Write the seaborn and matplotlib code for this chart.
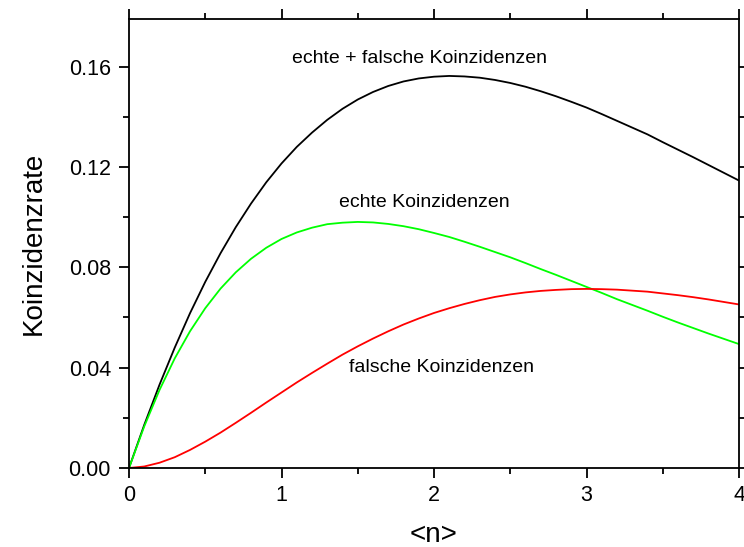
import matplotlib
matplotlib.use("Agg")
import matplotlib.pyplot as plt
from matplotlib.ticker import MultipleLocator, FormatStrFormatter
import seaborn as sns
import pandas as pd

# mean photon number <n>
n_vals = [0.0, 0.1, 0.2, 0.3, 0.4, 0.5, 0.6, 0.7, 0.8, 0.9,
          1.0, 1.1, 1.2, 1.3, 1.4, 1.5, 1.6, 1.7, 1.8, 1.9,
          2.0, 2.1, 2.2, 2.3, 2.4, 2.5, 2.6, 2.7, 2.8, 2.9,
          3.0, 3.1, 3.2, 3.3, 3.4, 3.5, 3.6, 3.7, 3.8, 3.9, 4.0]

# echte + falsche Koinzidenzen (black)
total_rate = [0.0, 0.0172, 0.0332, 0.0480, 0.0617, 0.0742, 0.0856, 0.0960, 0.1054, 0.1139,
              0.1214, 0.1280, 0.1337, 0.1388, 0.1432, 0.1469, 0.1499, 0.1523, 0.1541, 0.1553,
              0.1560, 0.1563, 0.1561, 0.1556, 0.1547, 0.1535, 0.1520, 0.1502, 0.1482, 0.1460,
              0.1437, 0.1411, 0.1384, 0.1357, 0.1330, 0.1299, 0.1269, 0.1239, 0.1208, 0.1177, 0.1146]

# echte Koinzidenzen (green)
true_rate = [0.0, 0.0166, 0.0311, 0.0437, 0.0545, 0.0637, 0.0715, 0.0780, 0.0834, 0.0878,
             0.0913, 0.0939, 0.0958, 0.0972, 0.0978, 0.0981, 0.0979, 0.0973, 0.0964, 0.0952,
             0.0937, 0.0921, 0.0902, 0.0882, 0.0861, 0.0840, 0.0817, 0.0793, 0.0770, 0.0746,
             0.0722, 0.0698, 0.0673, 0.0650, 0.0627, 0.0603, 0.0580, 0.0558, 0.0536, 0.0515, 0.0494]

# falsche Koinzidenzen (red)
false_rate = [0.0, 0.0006, 0.0021, 0.0043, 0.0072, 0.0105, 0.0141, 0.0180, 0.0220, 0.0261,
              0.0301, 0.0341, 0.0379, 0.0416, 0.0452, 0.0485, 0.0516, 0.0545, 0.0572, 0.0596,
              0.0618, 0.0637, 0.0654, 0.0669, 0.0682, 0.0692, 0.0700, 0.0706, 0.0710, 0.0713,
              0.0714, 0.0713, 0.0711, 0.0707, 0.0703, 0.0696, 0.0689, 0.0681, 0.0672, 0.0662, 0.0652]

labels = ["echte + falsche Koinzidenzen", "echte Koinzidenzen", "falsche Koinzidenzen"]
label_x = [1.905, 1.934, 2.052]
label_y = [0.1632, 0.1057, 0.0399]

x_ticks = [0, 1, 2, 3, 4]
y_ticks = [0.00, 0.04, 0.08, 0.12, 0.16]

sns.set_style("ticks")
plt.rcParams['font.family'] = ['Liberation Sans', 'DejaVu Sans']
plt.rcParams['text.color'] = 'black'
plt.rcParams['axes.labelcolor'] = 'black'
plt.rcParams['xtick.color'] = 'black'
plt.rcParams['ytick.color'] = 'black'

df = pd.DataFrame({
    "n": n_vals * 3,
    "rate": total_rate + true_rate + false_rate,
    "series": [labels[0]] * len(n_vals) + [labels[1]] * len(n_vals) + [labels[2]] * len(n_vals),
})

fig = plt.figure(figsize=(7.44, 5.47), dpi=100)
ax = fig.add_axes([129 / 744, 1 - 468 / 547, 610 / 744, 449 / 547])

palette = {labels[0]: "#000000", labels[1]: "#00ff00", labels[2]: "#ff0000"}
sns.lineplot(data=df, x="n", y="rate", hue="series", palette=palette,
             linewidth=1.3, legend=False, ax=ax, sort=False)

for t, xx, yy in zip(labels, label_x, label_y):
    ax.text(xx, yy, t, ha="center", va="center", fontsize=14, color="black")

ax.set_xlim(0, 4)
ax.set_ylim(0, 0.179)
ax.set_xticks(x_ticks)
ax.set_yticks(y_ticks)
ax.xaxis.set_minor_locator(MultipleLocator(0.5))
ax.yaxis.set_minor_locator(MultipleLocator(0.02))
ax.yaxis.set_major_formatter(FormatStrFormatter("%.2f"))

for side in ["top", "right", "left", "bottom"]:
    ax.spines[side].set_visible(True)
    ax.spines[side].set_linewidth(1.3)
    ax.spines[side].set_color("black")

ax.tick_params(axis="both", which="major", direction="out", length=7, width=1.3,
               labelsize=15.5, top=True, right=True, color="black", labelcolor="black")
ax.tick_params(axis="both", which="minor", direction="out", length=4, width=1.3,
               top=True, right=True, color="black")
ax.tick_params(axis="y", which="major", pad=6)
ax.tick_params(axis="x", which="major", pad=5)

ax.set_xlabel("<n>", fontsize=20, labelpad=12, color="black")
ax.set_ylabel("Koinzidenzrate", fontsize=20, labelpad=16, color="black")

fig.savefig("out.png", dpi=100)
